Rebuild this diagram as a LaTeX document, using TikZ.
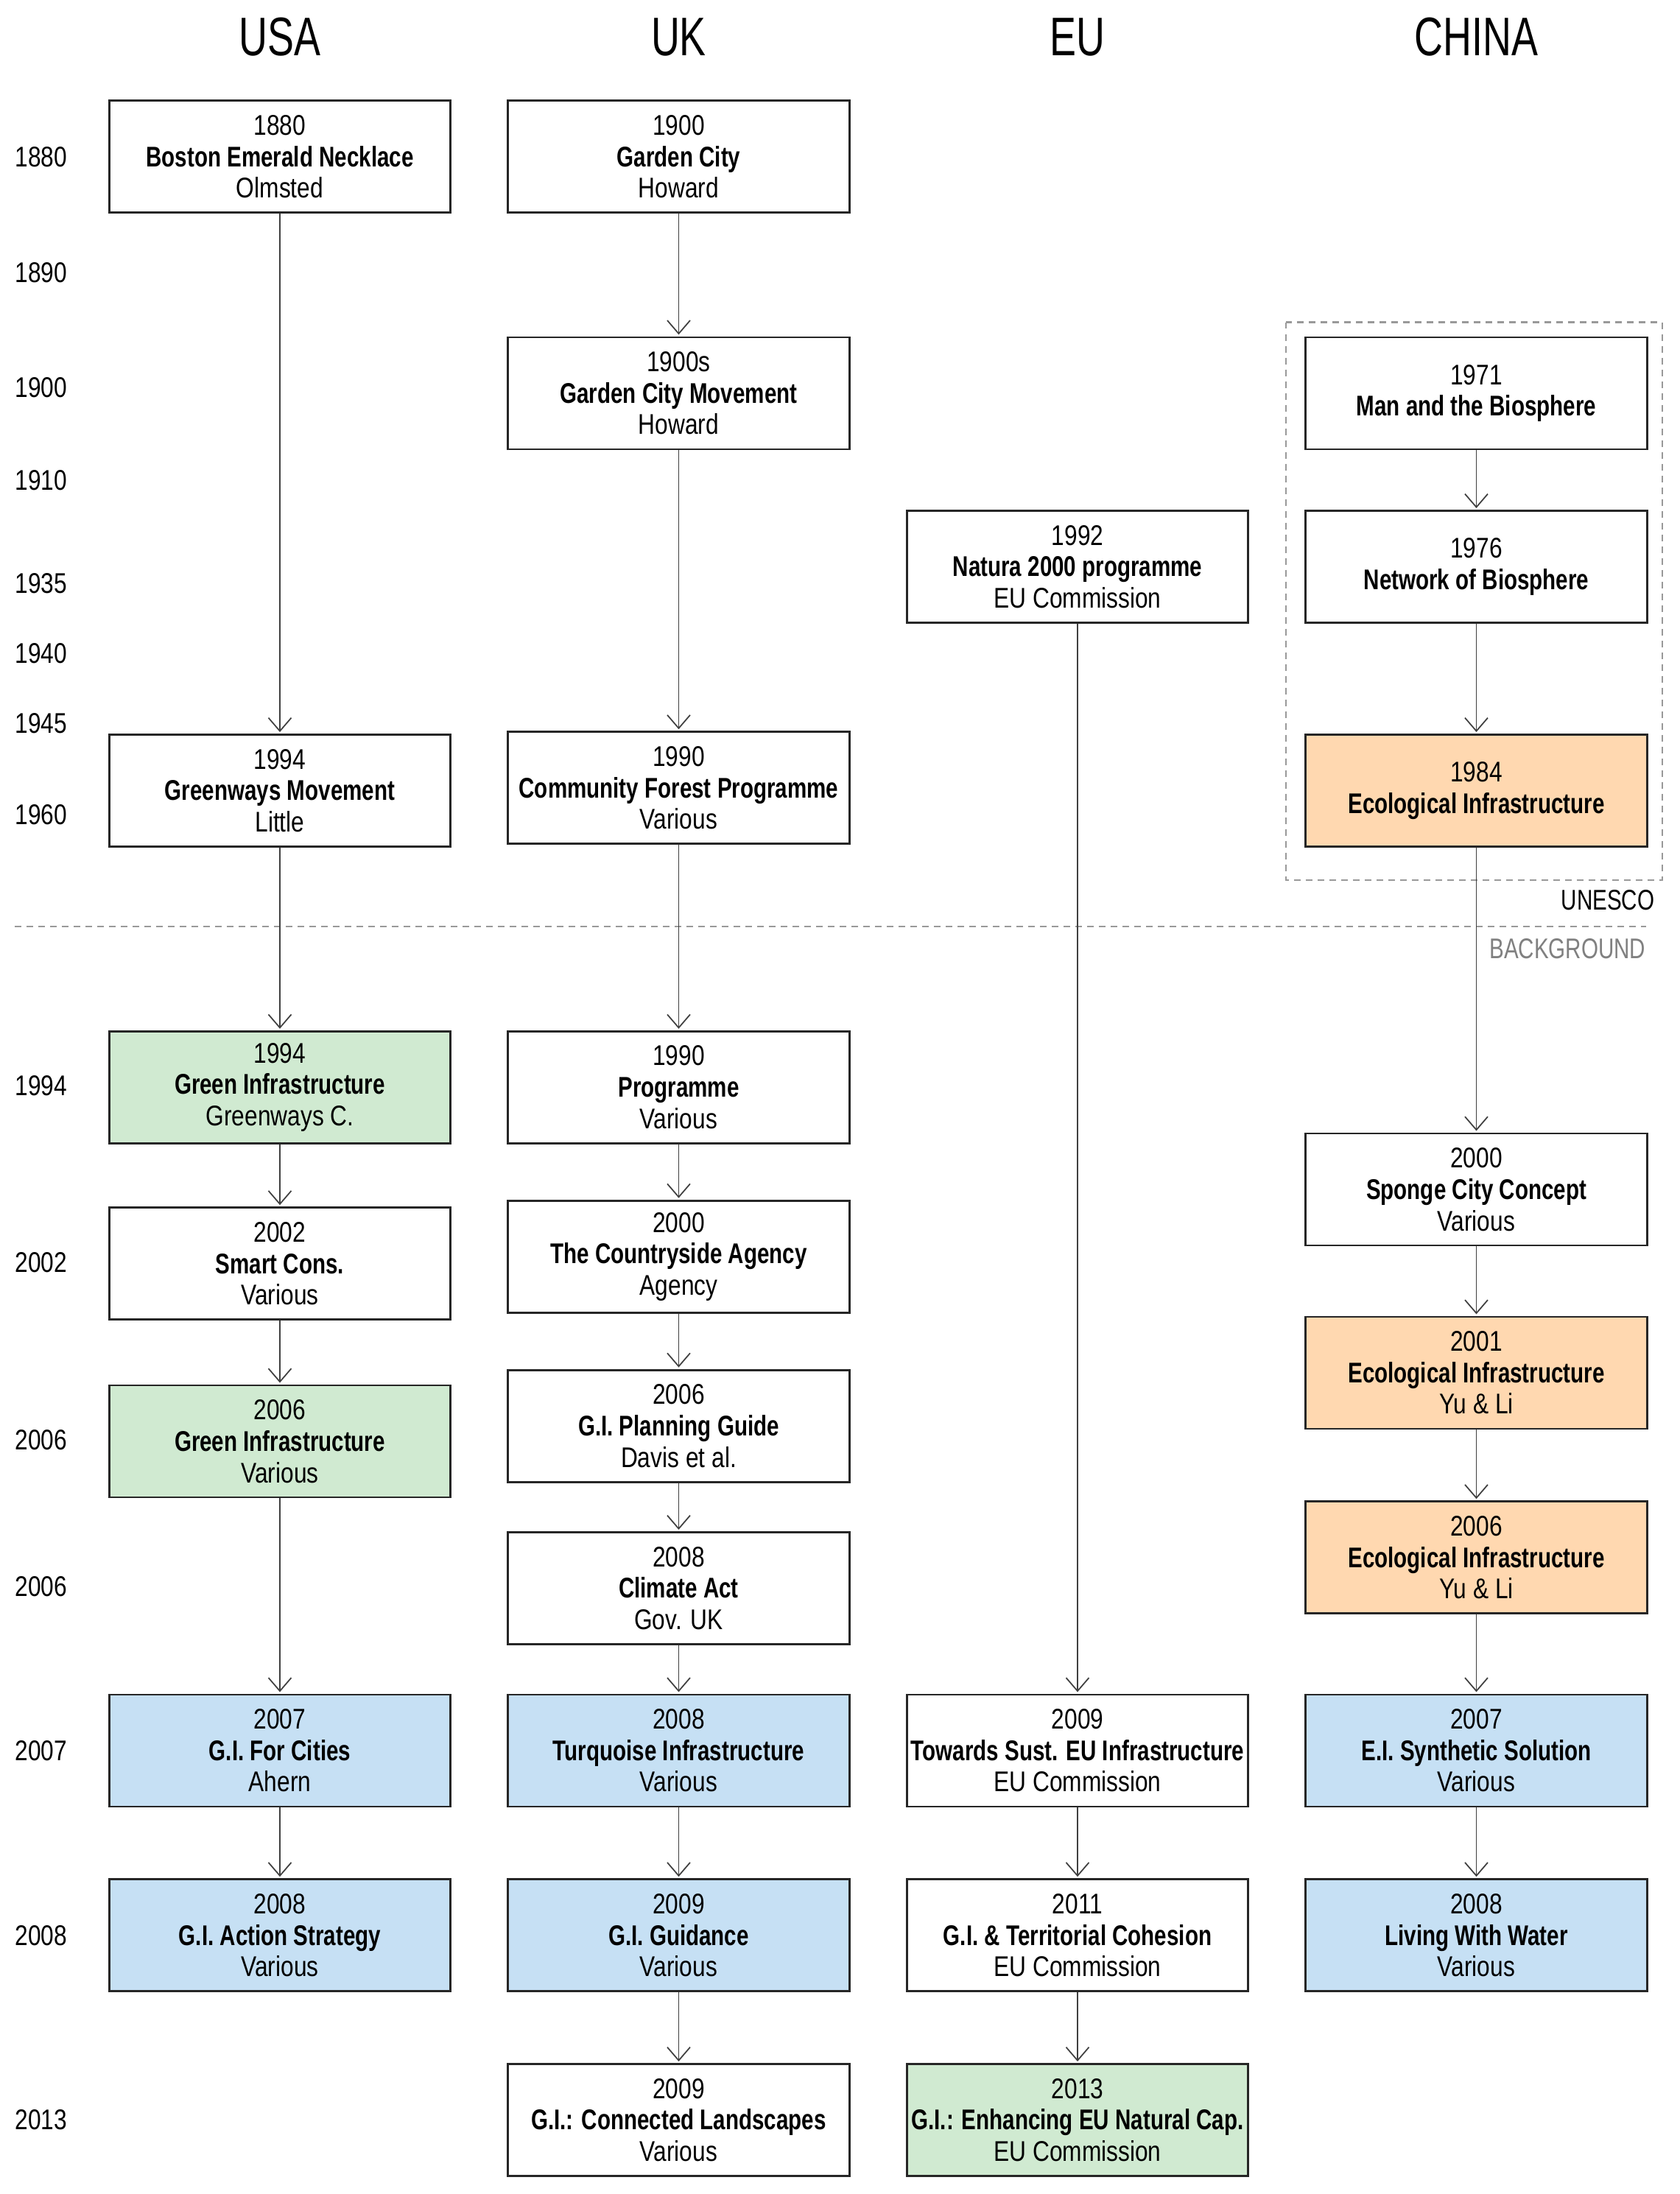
\documentclass[tikz,border=0pt]{standalone}
\usepackage{fontspec}
\setmainfont{Liberation Sans}[FakeStretch=0.82]
\newfontfamily\titlefont{Liberation Sans}[FakeStretch=0.765]
\newfontfamily\headfont{Liberation Sans}[FakeStretch=0.73]
\usetikzlibrary{arrows.meta, calc, positioning}
\definecolor{gigreen}{HTML}{D0EAD1}
\definecolor{giblue}{HTML}{C6E0F4}
\definecolor{eiorange}{HTML}{FFD8B0}
\newcommand{\evname}[1]{{\titlefont\bfseries #1}}
\tikzset{/Timeline/event/.style={
	draw=black!85, line width=0.8pt, fill=white, rectangle, align=center,
	minimum width=4.636cm, minimum height=1.52cm, inner sep=0pt,
	font=\fontsize{11}{12.15}\selectfont
}}
\tikzset{/Timeline/green/.style={/Timeline/event, fill=gigreen}}
\tikzset{/Timeline/blue/.style={/Timeline/event, fill=giblue}}
\tikzset{/Timeline/orange/.style={/Timeline/event, fill=eiorange}}
\tikzset{/Timeline/link/.style={
	draw=black!75, line width=0.5pt, -{Straight Barb[length=1.8mm,width=3.1mm]}, shorten >=0.6pt
}}
\tikzset{/Timeline/split/.style={
	draw=black!40, line width=0.6pt, dash pattern=on 0.09cm off 0.07cm
}}
\tikzset{/Timeline/year/.style={font=\fontsize{11}{12}\selectfont, inner sep=0pt}}

\begin{document}
\begin{tikzpicture}
\useasboundingbox (0,0) rectangle (22.8,-29.79);
{\headfont\fontsize{21}{24}\selectfont
\node (hUSA) at (3.8,-0.5) {USA};
\node (hUK) at (9.215,-0.5) {UK};
\node (hEU) at (14.63,-0.5) {EU};
\node (hCN) at (20.045,-0.5) {CHINA};
}
% years on the left
\node[/Timeline/year] (y1880) at (0.56,-2.128) {1880};
\node[/Timeline/year] (y1890) at (0.56,-3.705) {1890};
\node[/Timeline/year] (y1900) at (0.56,-5.263) {1900};
\node[/Timeline/year] (y1910) at (0.56,-6.517) {1910};
\node[/Timeline/year] (y1935) at (0.56,-7.923) {1935};
\node[/Timeline/year] (y1940) at (0.56,-8.873) {1940};
\node[/Timeline/year] (y1945) at (0.56,-9.823) {1945};
\node[/Timeline/year] (y1960) at (0.56,-11.058) {1960};
\node[/Timeline/year] (y1994) at (0.56,-14.744) {1994};
\node[/Timeline/year] (y2002) at (0.56,-17.138) {2002};
\node[/Timeline/year] (y2006a) at (0.56,-19.551) {2006};
\node[/Timeline/year] (y2006b) at (0.56,-21.546) {2006};
\node[/Timeline/year] (y2007) at (0.56,-23.769) {2007};
\node[/Timeline/year] (y2008) at (0.56,-26.277) {2008};
\node[/Timeline/year] (y2013) at (0.56,-28.785) {2013};

% USA
\node[/Timeline/event] (usaA) at (3.8,-2.128) {1880\\\evname{Boston Emerald Necklace}\\Olmsted};
\node[/Timeline/event] (usaB) at (3.8,-10.735) {1994\\\evname{Greenways Movement}\\Little};
\node[/Timeline/green] (usaC) at (3.8,-14.763) {1994\\\evname{Green Infrastructure}\\Greenways C.};
\node[/Timeline/event] (usaD) at (3.8,-17.157) {2002\\\evname{Smart Cons.}\\Various};
\node[/Timeline/green] (usaE) at (3.8,-19.57) {2006\\\evname{Green Infrastructure}\\Various};
\node[/Timeline/blue] (usaF) at (3.8,-23.769) {2007\\\evname{G.I. For Cities}\\Ahern};
\node[/Timeline/blue] (usaG) at (3.8,-26.277) {2008\\\evname{G.I. Action Strategy}\\Various};

% UK
\node[/Timeline/event] (ukA) at (9.215,-2.128) {1900\\\evname{Garden City}\\Howard};
\node[/Timeline/event] (ukB) at (9.215,-5.339) {1900s\\\evname{Garden City Movement}\\Howard};
\node[/Timeline/event] (ukC) at (9.215,-10.697) {1990\\\evname{Community Forest Programme}\\Various};
\node[/Timeline/event] (ukD) at (9.215,-14.763) {1990\\\evname{Programme}\\Various};
\node[/Timeline/event] (ukE) at (9.215,-17.062) {2000\\\evname{The Countryside Agency}\\Agency};
\node[/Timeline/event] (ukF) at (9.215,-19.361) {2006\\\evname{G.I. Planning Guide}\\Davis et al.};
\node[/Timeline/event] (ukG) at (9.215,-21.565) {2008\\\evname{Climate Act}\\Gov. UK};
\node[/Timeline/blue] (ukH) at (9.215,-23.769) {2008\\\evname{Turquoise Infrastructure}\\Various};
\node[/Timeline/blue] (ukI) at (9.215,-26.277) {2009\\\evname{G.I. Guidance}\\Various};
\node[/Timeline/event] (ukJ) at (9.215,-28.785) {2009\\\evname{G.I.: Connected Landscapes}\\Various};

% EU
\node[/Timeline/event] (euA) at (14.63,-7.695) {1992\\\evname{Natura 2000 programme}\\EU Commission};
\node[/Timeline/event] (euB) at (14.63,-23.769) {2009\\\evname{Towards Sust. EU Infrastructure}\\EU Commission};
\node[/Timeline/event] (euC) at (14.63,-26.277) {2011\\\evname{G.I. \& Territorial Cohesion}\\EU Commission};
\node[/Timeline/green] (euD) at (14.63,-28.785) {2013\\\evname{G.I.: Enhancing EU Natural Cap.}\\EU Commission};

% CHINA
\node[/Timeline/event] (cnA) at (20.045,-5.339) {1971\\\evname{Man and the Biosphere}};
\node[/Timeline/event] (cnB) at (20.045,-7.695) {1976\\\evname{Network of Biosphere}};
\node[/Timeline/orange] (cnC) at (20.045,-10.735) {1984\\\evname{Ecological Infrastructure}};
\node[/Timeline/event] (cnD) at (20.045,-16.15) {2000\\\evname{Sponge City Concept}\\Various};
\node[/Timeline/orange] (cnE) at (20.045,-18.639) {2001\\\evname{Ecological Infrastructure}\\Yu \& Li};
\node[/Timeline/orange] (cnF) at (20.045,-21.147) {2006\\\evname{Ecological Infrastructure}\\Yu \& Li};
\node[/Timeline/blue] (cnG) at (20.045,-23.769) {2007\\\evname{E.I. Synthetic Solution}\\Various};
\node[/Timeline/blue] (cnH) at (20.045,-26.277) {2008\\\evname{Living With Water}\\Various};

% UNESCO frame and background split
\draw[/Timeline/split] ([shift={(-0.25,0.19)}]cnA.north west) rectangle ([shift={(0.19,-0.44)}]cnC.south east);
\coordinate (splitL) at (0.2,-12.58);
\coordinate (splitR) at (22.35,-12.58);
\draw[/Timeline/split] (splitL) -- (splitR);
{\titlefont\fontsize{11}{12}\selectfont
\node[anchor=east, inner sep=0pt] (unesco) at (22.47,-12.22) {UNESCO};
\node[anchor=east, inner sep=0pt, text=black!50] (background) at (22.35,-12.88) {BACKGROUND};
}

% links
\path[/Timeline/link] (usaA) -- (usaB);
\path[/Timeline/link] (usaB) -- (usaC);
\path[/Timeline/link] (usaC) -- (usaD);
\path[/Timeline/link] (usaD) -- (usaE);
\path[/Timeline/link] (usaE) -- (usaF);
\path[/Timeline/link] (usaF) -- (usaG);

\path[/Timeline/link] (ukA) -- (ukB);
\path[/Timeline/link] (ukB) -- (ukC);
\path[/Timeline/link] (ukC) -- (ukD);
\path[/Timeline/link] (ukD) -- (ukE);
\path[/Timeline/link] (ukE) -- (ukF);
\path[/Timeline/link] (ukF) -- (ukG);
\path[/Timeline/link] (ukG) -- (ukH);
\path[/Timeline/link] (ukH) -- (ukI);
\path[/Timeline/link] (ukI) -- (ukJ);

\path[/Timeline/link] (euA) -- (euB);
\path[/Timeline/link] (euB) -- (euC);
\path[/Timeline/link] (euC) -- (euD);

\path[/Timeline/link] (cnA) -- (cnB);
\path[/Timeline/link] (cnB) -- (cnC);
\path[/Timeline/link] (cnC) -- (cnD);
\path[/Timeline/link] (cnD) -- (cnE);
\path[/Timeline/link] (cnE) -- (cnF);
\path[/Timeline/link] (cnF) -- (cnG);
\path[/Timeline/link] (cnG) -- (cnH);
\end{tikzpicture}
\end{document}
